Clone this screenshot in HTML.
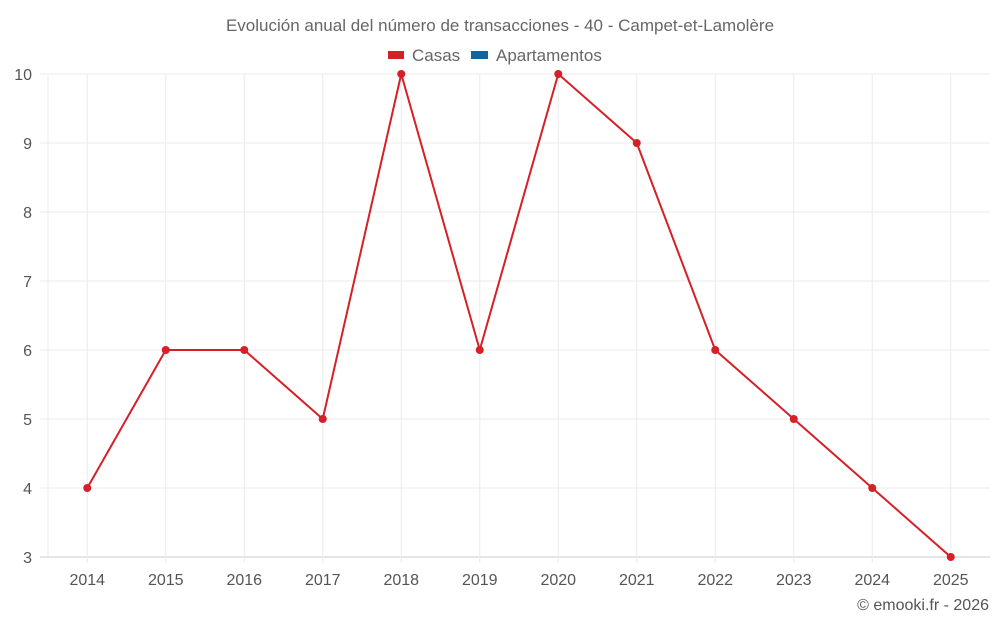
<!DOCTYPE html>
<html><head><meta charset="utf-8"><style>
body{margin:0;background:#fff;font-family:"Liberation Sans",sans-serif}
svg text{font-family:"Liberation Sans",sans-serif}
</style></head><body>
<svg id="c" width="1000" height="625">
<text x="500" y="31" text-anchor="middle" font-size="17" fill="#666">Evolución anual del número de transacciones - 40 - Campet-et-Lamolère</text>
<g>
<rect x="388" y="51" width="16" height="8" fill="#d62027"/>
<text x="412" y="61" font-size="17" fill="#666">Casas</text>
<rect x="471" y="51" width="17" height="8" fill="#0b66a3"/>
<text x="496" y="61" font-size="17" fill="#666">Apartamentos</text>
</g>
<g id="grid"></g><g id="axes"></g><g id="marks"></g>
<text x="989" y="610" text-anchor="end" font-size="16" fill="#555">© emooki.fr - 2026</text>
</svg>
<script>
const categories=["2014","2015","2016","2017","2018","2019","2020","2021","2022","2023","2024","2025"];
const casas=[4,6,6,5,10,6,10,9,6,5,4,3];
const yTicks=[3,4,5,6,7,8,9,10];
const L=48,R=990,T=74,B=557,yMin=3,yMax=10;
const band=(R-L)/categories.length;
const x=i=>L+band*(i+0.5);
const y=v=>B-(v-yMin)/(yMax-yMin)*(B-T);
const NS="http://www.w3.org/2000/svg";
function mk(p,t,a){const e=document.createElementNS(NS,t);for(const k in a)e.setAttribute(k,a[k]);p.appendChild(e);return e;}
const g=document.getElementById('grid'),ax=document.getElementById('axes'),m=document.getElementById('marks');
yTicks.forEach(v=>{
 const l=mk(g,'line',{x1:L-8,x2:R,y1:y(v),y2:y(v),stroke:v===yMin?'#ccc':'#ebebeb'});
 
 
 const t=mk(ax,'text',{x:32,y:y(v)+6,'text-anchor':'end','font-size':16,fill:'#555'});
 t.textContent=v;
 
 
});
const a=mk(g,'line',{x1:L,x2:L,y1:T,y2:B,stroke:'#ebebeb'});


categories.forEach((c,i)=>{
 const l=mk(g,'line',{x1:x(i),x2:x(i),y1:T,y2:B+6,stroke:'#ebebeb'});
 
 
 const t=mk(ax,'text',{x:x(i),y:585,'text-anchor':'middle','font-size':16,fill:'#555'});
 t.textContent=c;
 
 
});
const pl=mk(m,'polyline',{points:casas.map((v,i)=>x(i)+','+y(v)).join(' '),fill:'none',stroke:'#d62027','stroke-width':2});


casas.forEach((v,i)=>{
 const c=mk(m,'circle',{cx:x(i),cy:y(v),r:4,fill:'#d62027'});
 
 
});
</script>
</body></html>
